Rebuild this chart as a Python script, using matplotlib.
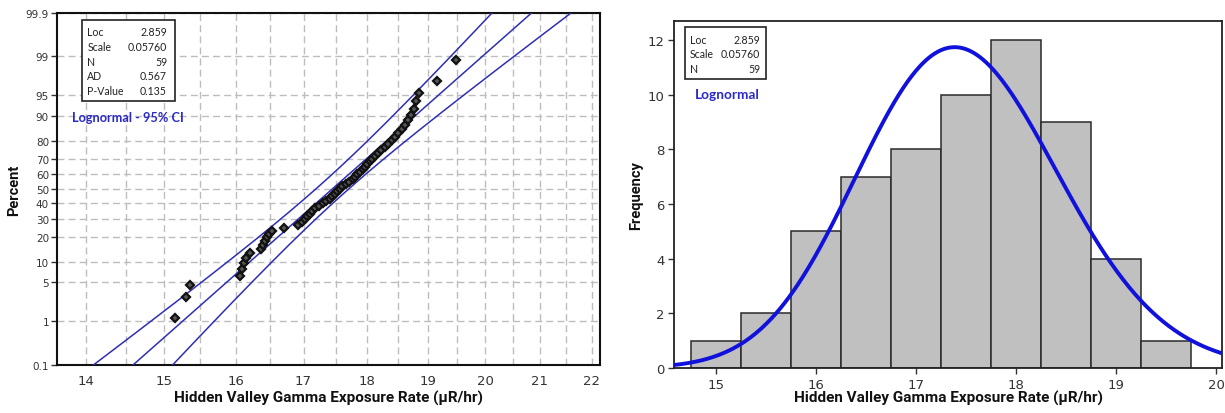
import numpy as np
import matplotlib
matplotlib.use("Agg")
import matplotlib.pyplot as plt
from matplotlib.patches import Rectangle
from matplotlib.ticker import FixedLocator, NullFormatter, FuncFormatter
from statistics import NormalDist

# Hidden Valley gamma exposure rate readings (uR/hr), sorted
exposure = [
    15.15, 15.31, 15.36,
    16.06, 16.09, 16.12, 16.15, 16.20,
    16.36, 16.39, 16.42, 16.45, 16.49, 16.53, 16.70,
    16.92, 16.97, 17.02, 17.05, 17.10, 17.13, 17.17, 17.23,
    17.30, 17.35, 17.40, 17.44, 17.48, 17.52, 17.56, 17.60, 17.65, 17.70,
    17.77, 17.80, 17.84, 17.88, 17.92, 17.96, 18.00, 18.04, 18.08, 18.12, 18.17, 18.22,
    18.28, 18.34, 18.40, 18.45, 18.50, 18.56, 18.62, 18.67, 18.72,
    18.77, 18.80, 18.85, 19.15,
    19.49,
]

# Lognormal fit summary
loc = 2.859
scale = 0.05760
n_obs = 59
ad_stat = 0.567
p_value = 0.135

pct_ticks = [0.1, 1, 5, 10, 20, 30, 40, 50, 60, 70, 80, 90, 95, 99, 99.9]
prob_x_ticks = [14, 15, 16, 17, 18, 19, 20, 21, 22]
hist_edges = [14.75, 15.25, 15.75, 16.25, 16.75, 17.25, 17.75, 18.25, 18.75, 19.25, 19.75]
hist_x_ticks = [15, 16, 17, 18, 19, 20]
freq_ticks = [0, 2, 4, 6, 8, 10, 12]

xlabel = "Hidden Valley Gamma Exposure Rate (\u00b5R/hr)"

W, H = 1225, 414
fig = plt.figure(figsize=(W / 100, H / 100), dpi=100)


def px_rect(left, top, right, bottom):
    return [left / W, 1 - bottom / H, (right - left) / W, (bottom - top) / H]


def px(x, y):
    return x / W, 1 - y / H


nd = NormalDist()
tick_font = "DejaVu Sans"
label_font = ["Roboto", "DejaVu Sans"]
box_font = ["Lato", "DejaVu Sans"]
title_font = ["Lato", "DejaVu Sans"]
box_size = 7.6
ci_blue = "#2F2FB5"
grid_kw = dict(color="#BDBDBD", linestyle=(0, (5, 3)), linewidth=1.0)

# ---------------- Probability plot ----------------
ax1 = fig.add_axes(px_rect(57.3, 14, 600, 365.7))
ax1.set_xscale("log")

xs = np.sort(np.array(exposure))
ranks = np.arange(1, len(xs) + 1)
plot_pos = (ranks - 0.3) / (len(xs) + 0.4)
zs = np.array([nd.inv_cdf(p) for p in plot_pos])

zz = np.linspace(-3.3, 3.3, 300)
center = loc + scale * zz
se = scale * np.sqrt((1 + zz ** 2 / 2) / n_obs)
zcrit = nd.inv_cdf(0.975)
for curve in (center - zcrit * se, center, center + zcrit * se):
    ax1.plot(np.exp(curve), zz, color=ci_blue, linewidth=1.1, zorder=3)

ax1.plot(xs, zs, linestyle="none", marker="D", markersize=4.4,
         markerfacecolor="#555555", markeredgecolor="#111111",
         markeredgewidth=1.6, zorder=4)

ax1.set_xlim(13.64, 22.16)
ax1.set_ylim(nd.inv_cdf(0.001), nd.inv_cdf(0.999))
ax1.xaxis.set_major_locator(FixedLocator(prob_x_ticks))
ax1.xaxis.set_minor_locator(FixedLocator([t + 0.5 for t in range(13, 22)]))
ax1.xaxis.set_major_formatter(FuncFormatter(lambda v, _: f"{v:g}"))
ax1.xaxis.set_minor_formatter(NullFormatter())
ax1.set_yticks([nd.inv_cdf(p / 100) for p in pct_ticks])
ax1.set_yticklabels([f"{p:g}" for p in pct_ticks])
ax1.grid(True, axis="x", which="both", **grid_kw)
ax1.grid(True, axis="y", which="major", **grid_kw)
ax1.set_axisbelow(True)
ax1.tick_params(axis="x", which="both", length=0, pad=7, labelsize=9.5,
                labelcolor="#333333")
ax1.tick_params(axis="y", length=4, width=1, pad=2, labelsize=7.5,
                labelcolor="#333333", color="#333333")
for lab in ax1.get_xticklabels() + ax1.get_yticklabels():
    lab.set_family(tick_font)
for s in ax1.spines.values():
    s.set_linewidth(1.5)
    s.set_color("#111111")
ax1.set_xlabel(xlabel, fontsize=11, fontweight="bold", family=label_font,
               color="#111111", va="center")
ax1.xaxis.set_label_coords(0.5, (365.7 - 398) / 351.7)
fig.text(*px(14, 190), "Percent", rotation=90, ha="center", va="center",
         fontsize=10.5, fontweight="bold", family=label_font, color="#111111")

# fit summary box
fig.patches.append(Rectangle(px(81.7, 101.7), (175 - 81.7) / W, (101.7 - 20.7) / H,
                             transform=fig.transFigure, facecolor="white",
                             edgecolor="#222222", linewidth=1.2, zorder=5))
rows = [("Loc", f"{loc:.3f}"), ("Scale", f"{scale:.5f}"), ("N", f"{n_obs}"),
        ("AD", f"{ad_stat:.3f}"), ("P-Value", f"{p_value:.3f}")]
for i, (k, v) in enumerate(rows):
    y = 32.3 + i * 14.85
    fig.text(*px(87.3, y), k, ha="left", va="center", fontsize=box_size,
             family=box_font, color="#222222", zorder=6)
    fig.text(*px(167, y), v, ha="right", va="center", fontsize=box_size,
             family=box_font, color="#222222", zorder=6)
fig.text(*px(71.7, 118.3), "Lognormal - 95% CI", ha="left", va="center",
         fontsize=9.2, fontweight="bold", family=title_font, color="#2A2AC8")

# ---------------- Histogram ----------------
ax2 = fig.add_axes(px_rect(674, 21.7, 1222, 369))
ax2.hist(exposure, bins=hist_edges, color="#C0C0C0", edgecolor="#2A2A2A",
         linewidth=1.1, zorder=2)
xc = np.linspace(14.5, 20.2, 400)
pdf = np.exp(-(np.log(xc) - loc) ** 2 / (2 * scale ** 2)) / (xc * scale * np.sqrt(2 * np.pi))
bin_w = hist_edges[1] - hist_edges[0]
ax2.plot(xc, pdf * n_obs * bin_w, color="#1111DD", linewidth=2.8, zorder=3)
ax2.set_xlim(14.58, 20.06)
ax2.set_ylim(0, 12.7)
ax2.set_xticks(hist_x_ticks)
ax2.set_yticks(freq_ticks)
ax2.tick_params(axis="both", length=4, width=1, labelsize=9.5,
                labelcolor="#333333", color="#333333")
ax2.tick_params(axis="y", pad=3)
ax2.tick_params(axis="x", pad=3)
for lab in ax2.get_xticklabels() + ax2.get_yticklabels():
    lab.set_family(tick_font)
for s in ax2.spines.values():
    s.set_linewidth(1.3)
    s.set_color("#222222")
ax2.set_xlabel(xlabel, fontsize=11, fontweight="bold", family=label_font,
               color="#111111", va="center")
ax2.xaxis.set_label_coords(0.5, (369 - 398) / 347.3)
fig.text(*px(636, 196), "Frequency", rotation=90, ha="center", va="center",
         fontsize=10.5, fontweight="bold", family=label_font, color="#111111")

fig.patches.append(Rectangle(px(685, 80), (766 - 685) / W, (80 - 28.3) / H,
                             transform=fig.transFigure, facecolor="white",
                             edgecolor="#222222", linewidth=1.2, zorder=5))
rows2 = [("Loc", f"{loc:.3f}"), ("Scale", f"{scale:.5f}"), ("N", f"{n_obs}")]
for i, (k, v) in enumerate(rows2):
    y = 40 + i * 14.65
    fig.text(*px(690, y), k, ha="left", va="center", fontsize=box_size,
             family=box_font, color="#222222", zorder=6)
    fig.text(*px(760, y), v, ha="right", va="center", fontsize=box_size,
             family=box_font, color="#222222", zorder=6)
fig.text(*px(695, 95), "Lognormal", ha="left", va="center",
         fontsize=9.8, fontweight="bold", family=title_font, color="#2A2AC8")

fig.savefig("out.png", dpi=100)
